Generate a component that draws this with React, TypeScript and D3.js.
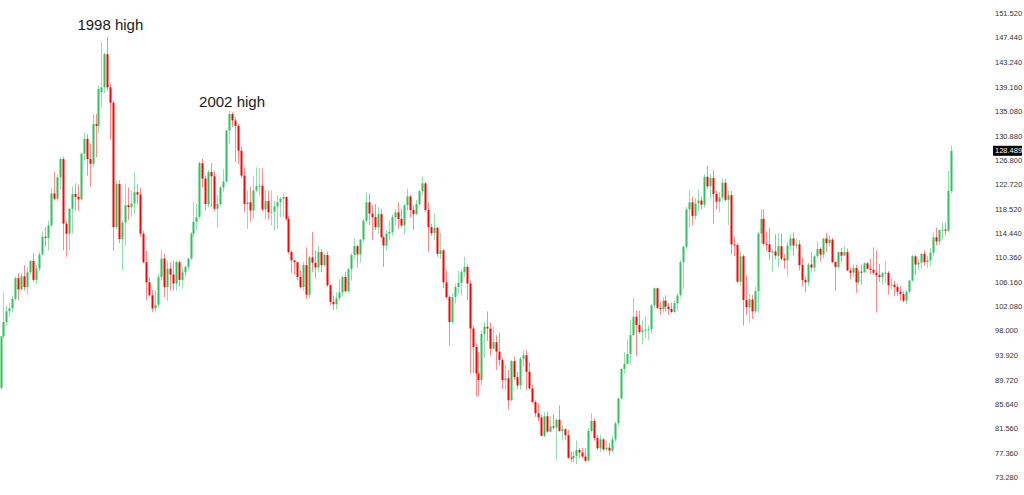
import React from "react";
import * as d3 from "d3";

// USD/JPY monthly candles, Aug 1995 – Apr 2022. Each row: [open, high, low, close]
const y1995: number[][] = [
  [88.5, 97.3, 88.2, 97.2], [97.2, 104.6, 96.9, 99.6], [99.6, 102.4, 99.0, 101.4], [101.4, 102.9, 100.5, 101.9], [101.9, 103.9, 101.2, 103.5],
];
const y1996: number[][] = [
  [103.5, 107.3, 103.2, 107.0], [107.0, 107.9, 103.3, 105.1], [105.1, 107.9, 104.9, 107.3], [107.3, 109.2, 104.9, 105.5],
  [105.5, 108.9, 104.2, 108.0], [108.0, 110.0, 107.6, 109.9], [109.9, 111.2, 106.4, 106.7], [106.7, 109.2, 106.0, 108.6],
  [108.6, 111.4, 108.2, 111.0], [111.0, 114.9, 110.8, 114.0], [114.0, 115.6, 112.3, 113.8], [113.8, 116.7, 111.7, 115.9],
];
const y1997: number[][] = [
  [115.9, 122.2, 115.6, 121.3], [121.3, 124.9, 120.1, 120.4], [120.4, 124.5, 120.0, 124.0], [124.0, 127.4, 122.0, 127.1],
  [127.1, 127.5, 111.7, 116.2], [116.2, 116.7, 110.6, 114.5], [114.5, 118.9, 111.7, 118.7], [118.7, 122.5, 114.5, 121.2],
  [121.2, 123.0, 118.4, 120.7], [120.7, 122.8, 118.4, 120.3], [120.3, 128.2, 120.1, 128.0], [128.0, 131.6, 126.8, 130.5],
];
const y1998: number[][] = [
  [130.5, 131.3, 124.3, 127.1], [127.1, 129.7, 122.4, 126.3], [126.3, 134.7, 125.7, 133.0], [133.0, 134.7, 127.4, 132.7],
  [132.7, 139.5, 131.4, 138.9], [138.4, 146.8, 135.8, 139.2], [139.2, 145.0, 138.2, 144.8], [144.8, 147.7, 138.6, 139.2],
  [139.2, 139.9, 130.4, 136.6], [136.6, 137.0, 111.6, 115.6], [115.6, 123.5, 115.2, 122.9], [122.9, 123.5, 112.9, 113.6],
];
const y1999: number[][] = [
  [113.6, 116.8, 108.3, 116.4], [116.4, 123.0, 112.5, 119.3], [119.3, 122.3, 116.8, 119.0], [119.0, 121.8, 117.4, 119.6],
  [119.6, 124.9, 117.8, 121.5], [121.5, 122.9, 119.4, 121.1], [121.1, 122.2, 114.0, 114.5], [114.5, 115.0, 109.5, 109.7],
  [109.7, 111.6, 103.3, 106.3], [106.3, 107.2, 103.9, 104.1], [104.1, 105.0, 101.3, 101.9], [101.9, 104.9, 101.2, 102.5],
];
const y2000: number[][] = [
  [102.5, 107.8, 102.1, 107.2], [107.2, 111.8, 106.6, 110.3], [110.3, 111.1, 103.8, 105.5], [105.5, 110.0, 103.2, 108.6],
  [108.6, 109.7, 104.9, 107.6], [107.6, 109.9, 104.9, 106.1], [106.1, 110.0, 104.9, 109.7], [109.7, 110.0, 105.5, 106.7],
  [106.7, 108.9, 105.2, 108.0], [108.0, 109.1, 107.2, 108.9], [108.9, 110.5, 108.3, 110.3], [110.3, 114.8, 110.0, 114.5],
];
const y2001: number[][] = [
  [114.5, 119.8, 113.9, 116.5], [116.5, 119.5, 115.0, 117.3], [117.3, 126.7, 117.0, 126.4], [126.4, 127.1, 122.3, 123.8],
  [123.8, 124.3, 118.4, 119.5], [119.5, 125.2, 118.9, 124.9], [124.9, 126.4, 119.0, 124.2], [124.2, 125.0, 118.4, 118.7],
  [118.7, 121.0, 115.6, 119.5], [119.5, 122.6, 119.2, 122.3], [122.3, 125.4, 121.5, 123.3], [123.3, 132.0, 123.2, 131.9],
];
const y2002: number[][] = [
  [131.9, 135.2, 129.6, 134.7], [134.7, 135.0, 132.5, 133.6], [133.6, 134.1, 126.6, 132.7], [132.7, 133.0, 126.3, 128.5],
  [128.5, 129.2, 123.9, 124.3], [124.3, 125.7, 118.1, 119.5], [119.5, 121.8, 115.3, 119.8], [119.8, 122.4, 116.5, 118.4],
  [118.4, 124.3, 117.0, 121.8], [121.8, 125.7, 121.5, 122.5], [122.5, 125.6, 120.8, 122.6], [122.6, 125.5, 118.3, 118.6],
];
const y2003: number[][] = [
  [118.6, 121.8, 116.9, 120.0], [120.0, 121.8, 116.9, 118.1], [118.1, 121.8, 115.9, 118.2], [118.2, 120.0, 115.0, 119.1],
  [119.1, 121.0, 115.4, 119.8], [119.8, 120.7, 117.3, 120.4], [120.4, 121.3, 117.4, 120.7], [120.7, 120.8, 116.7, 117.0],
  [117.0, 117.5, 111.1, 111.4], [111.4, 111.7, 107.8, 110.0], [110.0, 110.0, 107.6, 109.7], [109.7, 109.7, 106.6, 107.2],
];
const y2004: number[][] = [
  [107.2, 108.3, 105.2, 105.5], [105.5, 109.8, 104.9, 109.2], [109.2, 112.2, 103.4, 104.2], [104.2, 110.8, 103.6, 110.5],
  [110.5, 114.8, 108.0, 109.6], [109.6, 111.6, 106.9, 108.8], [108.8, 112.4, 108.0, 111.4], [111.4, 111.9, 108.0, 109.2],
  [109.2, 111.3, 108.9, 110.9], [110.9, 111.5, 105.5, 105.8], [105.8, 106.0, 102.4, 103.0], [103.0, 104.1, 101.6, 102.6],
];
const y2005: number[][] = [
  [102.6, 104.6, 101.7, 103.6], [103.6, 106.8, 103.2, 104.6], [104.6, 107.5, 103.9, 107.2], [107.2, 108.1, 104.6, 104.8],
  [104.8, 108.7, 104.5, 108.5], [108.5, 111.2, 106.6, 110.9], [110.9, 113.7, 110.2, 112.4], [112.4, 112.6, 108.8, 111.0],
  [111.0, 113.6, 109.6, 113.5], [113.5, 117.0, 113.0, 116.7], [116.7, 121.4, 116.4, 119.8], [119.8, 121.3, 115.9, 117.9],
];
const y2006: number[][] = [
  [117.9, 119.3, 113.4, 117.3], [117.3, 119.5, 115.1, 115.6], [115.6, 119.0, 114.5, 117.8], [117.8, 118.7, 113.7, 113.9],
  [113.9, 114.2, 108.9, 112.5], [112.5, 115.1, 111.7, 114.5], [114.5, 116.7, 113.4, 114.8], [114.8, 117.8, 114.2, 117.3],
  [117.3, 118.7, 115.9, 118.1], [118.1, 119.8, 115.3, 117.0], [117.0, 118.7, 115.6, 115.9], [115.9, 119.5, 114.5, 119.3],
];
const y2007: number[][] = [
  [119.3, 122.1, 118.4, 120.8], [120.8, 121.0, 117.3, 118.5], [118.5, 119.3, 115.1, 117.8], [117.8, 120.2, 117.6, 119.5],
  [119.5, 121.9, 119.3, 121.7], [121.7, 124.1, 121.0, 123.0], [123.0, 123.2, 118.2, 118.5], [118.5, 119.8, 111.4, 115.6],
  [115.6, 116.2, 114.2, 114.6], [114.6, 117.9, 113.4, 115.5], [115.5, 115.6, 110.6, 111.1], [111.1, 114.7, 110.2, 111.7],
];
const y2008: number[][] = [
  [111.7, 111.9, 105.3, 106.3], [106.3, 108.3, 103.6, 103.8], [103.8, 104.1, 95.7, 99.6], [99.6, 104.4, 99.2, 103.8],
  [103.8, 106.1, 102.7, 105.5], [105.5, 108.3, 104.4, 106.2], [106.2, 108.5, 104.1, 108.0], [108.0, 110.6, 107.2, 108.9],
  [108.9, 109.3, 103.3, 106.1], [106.1, 106.6, 90.9, 98.5], [98.5, 99.0, 90.9, 95.4], [95.4, 96.0, 87.0, 90.9],
];
const y2009: number[][] = [
  [90.9, 94.5, 87.1, 89.8], [89.8, 98.2, 88.9, 97.6], [97.6, 99.6, 93.5, 98.8], [98.8, 101.4, 96.4, 98.5],
  [98.5, 99.5, 93.9, 95.1], [95.1, 98.8, 94.9, 96.2], [96.2, 97.4, 91.5, 94.6], [94.6, 97.8, 92.2, 93.2],
  [93.2, 93.5, 88.3, 89.8], [89.8, 92.4, 88.1, 90.1], [90.1, 91.5, 84.8, 86.4], [86.4, 93.2, 86.2, 93.0],
];
const y2010: number[][] = [
  [93.0, 93.8, 89.8, 90.3], [90.3, 91.2, 88.3, 88.9], [88.9, 93.7, 88.2, 93.4], [93.4, 94.8, 92.0, 94.0],
  [94.0, 94.9, 88.1, 91.2], [91.2, 92.8, 88.2, 88.4], [88.4, 89.0, 85.9, 86.1], [86.1, 86.4, 83.6, 84.2],
  [84.2, 85.9, 82.9, 83.5], [83.5, 84.0, 80.3, 80.4], [80.4, 84.4, 80.2, 83.7], [83.7, 84.5, 80.9, 81.1],
];
const y2011: number[][] = [
  [81.1, 83.7, 81.0, 82.0], [82.0, 84.0, 81.5, 81.8], [81.8, 83.3, 76.3, 83.1], [83.1, 85.5, 81.1, 81.2],
  [81.2, 82.2, 79.6, 81.5], [81.5, 81.7, 79.7, 80.5], [80.5, 81.4, 76.5, 76.7], [76.7, 77.7, 75.9, 76.6],
  [76.6, 77.8, 75.9, 77.0], [77.0, 79.6, 75.6, 78.0], [78.0, 78.3, 76.6, 77.6], [77.6, 78.3, 76.6, 76.9],
];
const y2012: number[][] = [
  [76.9, 78.3, 76.0, 76.2], [76.2, 81.7, 76.1, 81.2], [81.2, 84.2, 80.9, 82.9], [82.9, 83.3, 79.6, 80.0],
  [80.0, 80.6, 78.0, 78.3], [78.3, 80.6, 77.7, 79.8], [79.8, 80.0, 77.9, 78.1], [78.1, 79.6, 77.9, 78.4],
  [78.4, 79.2, 77.1, 77.9], [77.9, 80.4, 77.6, 79.8], [79.8, 82.8, 79.4, 82.5], [82.5, 86.8, 82.0, 86.7],
];
const y2013: number[][] = [
  [86.7, 91.8, 86.5, 91.7], [91.7, 94.5, 90.9, 92.5], [92.5, 96.7, 92.5, 94.2], [94.2, 99.9, 92.6, 97.4],
  [97.4, 103.7, 97.3, 100.5], [100.5, 101.5, 93.8, 99.1], [99.1, 101.5, 97.6, 97.9], [97.9, 99.9, 95.8, 98.2],
  [98.2, 100.6, 96.9, 98.3], [98.3, 99.0, 96.6, 98.4], [98.4, 102.6, 97.6, 102.4], [102.4, 105.4, 101.9, 105.3],
];
const y2014: number[][] = [
  [105.3, 105.4, 101.8, 102.0], [102.0, 103.0, 100.8, 101.8], [101.8, 103.8, 101.2, 103.2], [103.2, 104.1, 101.4, 102.2],
  [102.2, 102.8, 100.8, 101.8], [101.8, 102.8, 101.1, 101.3], [101.3, 103.2, 101.1, 102.8], [102.8, 104.5, 101.5, 104.1],
  [104.1, 110.1, 103.8, 109.7], [109.7, 112.5, 105.2, 112.3], [112.3, 119.0, 111.9, 118.6], [118.6, 121.8, 115.6, 119.8],
];
const y2015: number[][] = [
  [119.8, 120.8, 115.9, 117.5], [117.5, 120.5, 116.9, 119.6], [119.6, 122.0, 118.3, 120.1], [120.1, 120.8, 118.6, 119.4],
  [119.4, 124.5, 118.9, 124.1], [124.1, 125.9, 122.1, 122.5], [122.5, 124.6, 120.4, 123.9], [123.9, 125.3, 116.2, 121.2],
  [121.2, 121.7, 118.6, 119.9], [119.9, 121.5, 118.1, 120.6], [120.6, 123.8, 120.3, 123.1], [123.1, 123.7, 119.9, 120.2],
];
const y2016: number[][] = [
  [120.2, 121.7, 116.0, 121.0], [121.0, 121.7, 111.0, 112.7], [112.7, 114.0, 110.7, 112.6], [112.6, 112.9, 106.1, 106.4],
  [106.4, 111.4, 105.6, 110.7], [110.7, 111.0, 99.0, 103.3], [103.3, 107.5, 100.7, 102.1], [102.1, 104.3, 99.5, 103.4],
  [103.4, 104.2, 100.1, 101.4], [101.4, 105.5, 101.1, 104.8], [104.8, 114.8, 101.2, 114.5], [114.5, 118.7, 112.9, 117.0],
];
const y2017: number[][] = [
  [117.0, 118.6, 112.5, 112.8], [112.8, 114.9, 111.6, 112.7], [112.7, 115.5, 110.1, 111.4], [111.4, 111.9, 108.1, 111.5],
  [111.5, 114.4, 110.2, 110.8], [110.8, 114.5, 108.8, 112.4], [112.4, 114.5, 110.0, 110.3], [110.3, 111.1, 108.6, 110.0],
  [110.0, 113.2, 107.3, 112.5], [112.5, 114.4, 111.7, 113.7], [113.7, 114.7, 110.8, 112.5], [112.5, 113.7, 111.9, 112.7],
];
const y2018: number[][] = [
  [112.7, 113.4, 108.3, 109.2], [109.2, 110.5, 105.6, 106.7], [106.7, 107.3, 104.6, 106.3], [106.3, 109.6, 105.7, 109.3],
  [109.3, 111.4, 108.1, 108.8], [108.8, 111.0, 108.1, 110.7], [110.7, 113.2, 110.3, 111.9], [111.9, 112.2, 109.8, 111.0],
  [111.0, 113.7, 110.4, 113.7], [113.7, 114.6, 111.4, 112.9], [112.9, 114.2, 112.3, 113.5], [113.5, 113.8, 109.6, 109.7],
];
const y2019: number[][] = [
  [109.7, 109.9, 104.9, 108.9], [108.9, 111.5, 108.5, 111.4], [111.4, 112.1, 109.7, 110.8], [110.8, 112.4, 110.8, 111.4],
  [111.4, 112.0, 108.2, 108.3], [108.3, 108.8, 106.8, 107.9], [107.9, 109.3, 107.2, 108.7], [108.7, 109.3, 104.5, 106.3],
  [106.3, 108.5, 105.9, 108.1], [108.1, 109.3, 105.9, 108.0], [108.0, 109.7, 107.9, 109.5], [109.5, 109.7, 108.4, 108.6],
];
const y2020: number[][] = [
  [108.6, 110.3, 107.7, 108.4], [108.4, 112.2, 107.5, 107.9], [107.9, 111.7, 101.2, 107.5], [107.5, 109.4, 106.4, 107.2],
  [107.2, 108.1, 105.9, 107.8], [107.8, 109.9, 106.1, 107.9], [107.9, 108.2, 104.2, 105.8], [105.8, 107.0, 105.1, 105.9],
  [105.9, 106.6, 104.0, 105.5], [105.5, 106.1, 104.0, 104.7], [104.7, 105.7, 103.2, 104.3], [104.3, 104.8, 102.9, 103.2],
];
const y2021: number[][] = [
  [103.2, 105.0, 102.6, 104.7], [104.7, 106.7, 104.4, 106.6], [106.6, 110.9, 106.4, 110.7], [110.7, 110.9, 107.5, 109.3],
  [109.3, 110.2, 108.3, 109.6], [109.6, 111.1, 108.6, 111.1], [111.1, 111.7, 109.1, 109.7], [109.7, 110.8, 108.7, 110.0],
  [110.0, 112.1, 109.1, 111.3], [111.3, 114.7, 110.8, 113.9], [113.9, 115.5, 112.5, 113.2], [113.2, 115.2, 112.6, 115.1],
];
const y2022: number[][] = [
  [115.1, 116.4, 113.5, 115.2], [115.2, 116.3, 114.2, 115.0], [115.0, 125.1, 114.7, 121.7], [121.7, 129.4, 121.3, 128.489],
];

const candles: number[][] = [
  ...y1995, ...y1996, ...y1997, ...y1998, ...y1999, ...y2000, ...y2001, ...y2002, ...y2003,
  ...y2004, ...y2005, ...y2006, ...y2007, ...y2008, ...y2009, ...y2010, ...y2011, ...y2012,
  ...y2013, ...y2014, ...y2015, ...y2016, ...y2017, ...y2018, ...y2019, ...y2020, ...y2021, ...y2022,
];

const tickLabels: number[] = [
  151.52, 147.44, 143.24, 139.16, 135.08, 130.88, 126.8, 122.72, 118.52, 114.44,
  110.36, 106.16, 102.08, 98.0, 93.92, 89.72, 85.64, 81.56, 77.36, 73.28,
];

const annotationTexts: string[] = ["1998 high", "2002 high"];
const annotationIdx: number[] = [36, 77];
const annotationPrice: number[] = [147.7, 135.2];

const W = 1024;
const H = 495;
const UP = "#2cc45f";
const DOWN = "#ff0000";
const UP_WICK = "#93dfae";
const DOWN_WICK = "#ff8c8c";
const ANN_DY = [7, 4];

export default function App() {
  const x = d3.scaleLinear().domain([0, candles.length - 1]).range([0.5, 950.5]);
  const y = d3.scaleLinear().domain([73.28, 151.52]).range([478, 14.3]);
  const last = candles[candles.length - 1][3];
  const fmt = d3.format(".3f");

  return (
    <svg
      width={W}
      height={H}
      style={{ position: "absolute", left: 0, top: 0, background: "#fff" }}
      fontFamily="'Liberation Sans', Arial, sans-serif"
    >
      <rect x={0} y={0} width={W} height={H} fill="#fff" />
      <g>
        {candles.map((c, i) => {
          const [o, h, l, cl] = c;
          const up = cl >= o;
          const cx = Math.round(x(i)) + 0.5;
          const top = y(Math.max(o, cl));
          const bot = y(Math.min(o, cl));
          const bh = Math.max(1, bot - top);
          return (
            <g key={i}>
              <line x1={cx} x2={cx} y1={y(h)} y2={y(l)} stroke={up ? UP_WICK : DOWN_WICK} strokeWidth={1} />
              <rect x={cx - 1} y={top} width={2} height={bh} fill={up ? UP : DOWN} />
            </g>
          );
        })}
      </g>
      <g fontSize={7.5} fill="#333">
        {tickLabels.map((t) => (
          <text key={t} x={995} y={y(t)} dominantBaseline="middle">
            {fmt(t)}
          </text>
        ))}
      </g>
      <g>
        <rect x={993} y={y(last) - 5} width={29} height={10} fill="#000" />
        <text x={995} y={y(last)} dominantBaseline="middle" fontSize={7.5} fill="#fff">
          {fmt(last)}
        </text>
      </g>
      <g fontSize={15} fill="#1a1a1a">
        {annotationTexts.map((t, k) => (
          <text key={t} x={x(annotationIdx[k]) - 30} y={y(annotationPrice[k]) - ANN_DY[k]}>
            {t}
          </text>
        ))}
      </g>
    </svg>
  );
}
